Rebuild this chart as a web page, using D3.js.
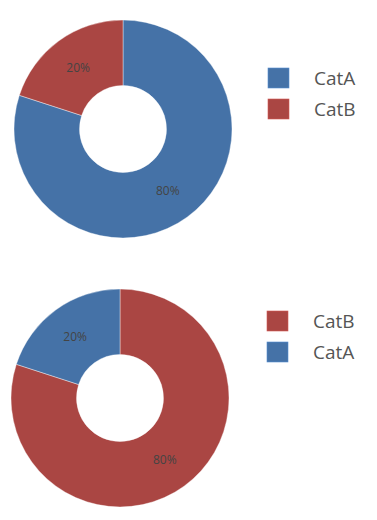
<!DOCTYPE html>
<html>
<head>
<meta charset="utf-8">
<script src="https://cdn.jsdelivr.net/npm/d3@7"></script>
<style>
  body { margin: 0; background: #fff; }
  svg { display: block; font-family: "Open Sans", sans-serif; }
</style>
</head>
<body>
<svg id="chart" width="377" height="520"></svg>
<script>
// data
const categories = ["CatA", "CatB"];
const topOrder = ["CatA", "CatB"];
const topValues = [80, 20];
const bottomOrder = ["CatB", "CatA"];
const bottomValues = [80, 20];
const palette = ["#4572a7", "#aa4643"];

const color = d3.scaleOrdinal().domain(categories).range(palette);
const svg = d3.select("#chart");

function donut(order, values, cx, cy, legendX, legendY) {
    const outerR = 109, innerR = 43.5;
    const total = d3.sum(values);
    const rows = order.map((c, i) => ({ name: c, value: values[i] }));

    const pie = d3.pie().sort(null).value(d => d.value);
    const arc = d3.arc().innerRadius(innerR).outerRadius(outerR);

    const g = svg.append("g").attr("transform", "translate(" + cx + "," + cy + ")");

    g.selectAll("path")
        .data(pie(rows))
        .join("path")
        .attr("d", arc)
        .attr("fill", d => color(d.data.name))
        .attr("stroke", "#fff")
        .attr("stroke-width", 0.4);

    g.selectAll("text")
        .data(pie(rows))
        .join("text")
        .attr("transform", d => "translate(" + arc.centroid(d) + ")")
        .attr("text-anchor", "middle")
        .attr("dy", "0.35em")
        .style("font-size", "12px")
        .style("fill", "#444")
        .text(d => d3.format(".0%")(d.data.value / total));

    // legend
    const lg = svg.append("g").attr("transform", "translate(" + legendX + "," + legendY + ")");
    const item = lg.selectAll("g")
        .data(rows)
        .join("g")
        .attr("transform", (d, i) => "translate(0," + (i * 31) + ")");

    item.append("rect")
        .attr("width", 21)
        .attr("height", 20)
        .attr("fill", d => color(d.name))
        .attr("stroke", d => d3.color(color(d.name)).brighter(0.6))
        .attr("stroke-width", 0.6);

    item.append("text")
        .attr("x", 46)
        .attr("y", 10)
        .attr("dy", "0.35em")
        .style("font-size", "19px")
        .style("fill", "#555")
        .text(d => d.name);
}

donut(topOrder, topValues, 123, 129, 268, 68);
donut(bottomOrder, bottomValues, 120, 398, 267, 311);
</script>
</body>
</html>
